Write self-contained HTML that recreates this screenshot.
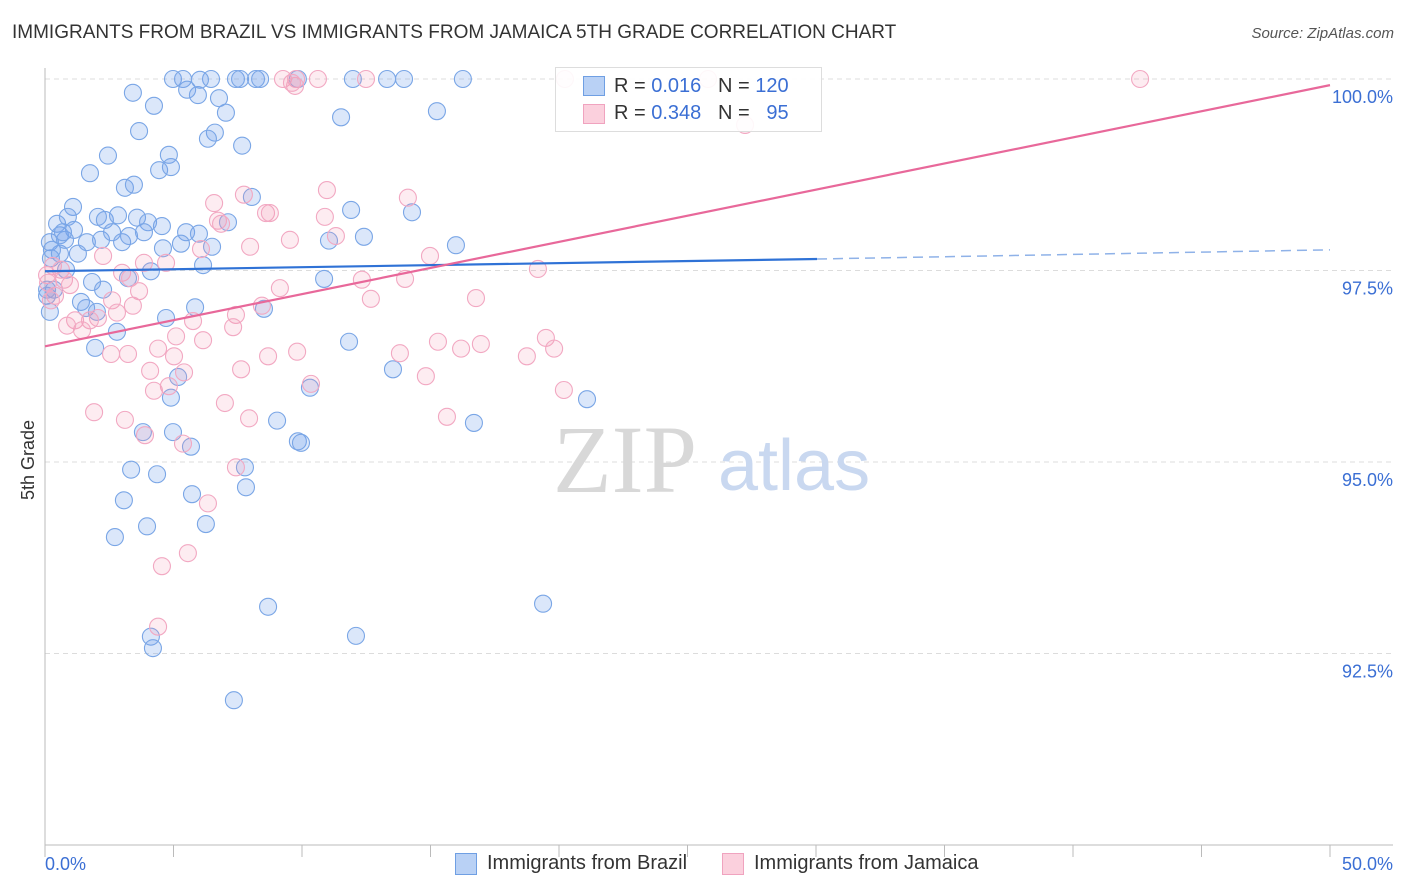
<!DOCTYPE html>
<html><head><meta charset="utf-8"><style>
body{margin:0;background:#fff;font-family:"Liberation Sans",sans-serif;}
#wrap{position:relative;width:1406px;height:892px;overflow:hidden;}
.t{position:absolute;white-space:nowrap;}
</style></head><body>
<div id="wrap">
<div class="t" style="left:12px;top:22px;font-size:19px;color:#333;">IMMIGRANTS FROM BRAZIL VS IMMIGRANTS FROM JAMAICA 5TH GRADE CORRELATION CHART</div>
<div class="t" style="right:12px;top:25px;font-size:15px;color:#555;font-style:italic;">Source: ZipAtlas.com</div>
<div class="t" style="left:18px;top:500px;font-size:18px;color:#333;transform:rotate(-90deg);transform-origin:left top;">5th Grade</div>
<svg id="svg" width="1406" height="892" style="position:absolute;left:0;top:0;"></svg>
</div>
<script>
const xTicksLabels=["0.0%","50.0%"];
const yTickValues=[100,97.5,95,92.5];
const yTickLabels=["100.0%","97.5%","95.0%","92.5%"];
const brazilX=[4.98,5.37,6.46,7.43,7.59,8.21,8.37,9.84,11.98,13.31,13.97,16.26,3.42,5.53,5.95,6.77,4.24,7.04,11.52,15.25,3.66,6.61,6.34,7.67,2.45,4.82,1.75,4.44,4.90,3.11,3.46,8.05,1.09,11.91,14.28,0.47,0.89,2.06,2.33,2.84,3.58,4.01,4.55,5.49,5.99,7.12,0.19,0.58,1.13,1.63,2.18,2.61,3.00,3.27,3.85,4.59,5.29,6.50,11.05,12.41,15.99,0.23,0.58,1.28,0.82,4.12,6.15,10.86,0.35,0.08,1.83,2.26,3.23,1.40,1.60,2.02,5.84,8.52,4.71,2.80,1.95,11.83,13.54,5.18,10.31,4.90,21.09,9.03,16.69,3.81,4.98,9.84,9.96,5.68,3.35,4.36,7.78,7.82,5.72,3.07,6.26,3.97,2.72,8.68,19.38,4.12,12.10,4.20,7.35,0.19,0.08,0.27,0.78,6.03,0.70];
const brazilY=[100,100,100,100,100,100,100,100,100,100,100,100,99.82,99.86,99.79,99.75,99.65,99.56,99.50,99.58,99.32,99.30,99.22,99.13,99.00,99.01,98.77,98.81,98.85,98.58,98.62,98.46,98.33,98.29,98.26,98.11,98.20,98.20,98.16,98.22,98.19,98.13,98.08,98.00,97.98,98.13,97.87,97.96,98.03,97.87,97.90,98.00,97.87,97.95,98.00,97.79,97.85,97.81,97.89,97.94,97.83,97.66,97.72,97.72,97.51,97.49,97.57,97.39,97.25,97.17,97.35,97.25,97.40,97.09,97.01,96.96,97.02,97.00,96.88,96.70,96.49,96.57,96.21,96.11,95.97,95.84,95.82,95.54,95.51,95.39,95.39,95.27,95.25,95.20,94.90,94.84,94.93,94.67,94.58,94.50,94.19,94.16,94.02,93.11,93.15,92.72,92.73,92.57,91.89,96.96,97.25,97.77,97.90,99.99,98.00];
const jamaicaX=[20.23,25.80,42.61,9.26,9.77,10.62,12.49,9.73,9.61,27.24,7.74,10.97,14.12,6.58,8.60,8.75,10.89,6.73,6.85,11.32,6.07,7.98,9.53,14.98,4.71,3.85,0.31,0.62,0.74,2.26,3.00,3.31,0.39,19.18,12.33,14.01,16.77,12.68,9.14,3.66,0.97,2.61,3.42,7.43,8.44,2.80,2.06,1.17,1.75,5.76,7.32,5.10,6.15,1.44,4.40,5.02,3.23,2.57,8.68,9.81,13.81,15.29,16.19,16.96,18.75,19.49,19.81,4.09,5.41,7.63,14.82,10.35,4.82,4.24,20.19,7.00,15.64,1.91,3.11,7.94,3.89,5.37,7.43,6.34,5.56,4.55,4.40,0.08,0.12,0.23,0.86];
const jamaicaY=[100,100,100,100,100,100,100,99.91,99.95,99.40,98.49,98.55,98.45,98.38,98.25,98.25,98.20,98.15,98.11,97.95,97.78,97.81,97.90,97.69,97.60,97.60,97.56,97.51,97.38,97.69,97.47,97.40,97.17,97.52,97.38,97.39,97.14,97.13,97.27,97.23,97.31,97.11,97.04,96.92,97.04,96.95,96.88,96.85,96.85,96.84,96.76,96.64,96.59,96.72,96.48,96.38,96.41,96.41,96.38,96.44,96.42,96.57,96.48,96.54,96.38,96.62,96.48,96.19,96.17,96.21,96.12,96.02,95.99,95.93,95.94,95.77,95.59,95.65,95.55,95.57,95.35,95.24,94.93,94.46,93.81,93.64,92.85,97.44,97.34,97.11,96.78];
const brazilTrendX=[0,30.04,50];
const brazilTrendY=[97.49,97.65,97.77];
const jamaicaTrendX=[0,50];
const jamaicaTrendY=[96.51,99.92];

const X=v=>45+v*25.7;
const Y=v=>79+(100-v)*76.6;
const svg=document.getElementById('svg');
const NS='http://www.w3.org/2000/svg';
function mk(tag,attrs,parent){const e=document.createElementNS(NS,tag);for(const k in attrs)e.setAttribute(k,attrs[k]);(parent||svg).appendChild(e);return e;}
yTickValues.forEach((v,i)=>{
  const g=mk('line',{x1:45,x2:1393,y1:Y(v),y2:Y(v),stroke:'#dcdcdc','stroke-dasharray':'5,4','stroke-width':1});
  
  
  const t=mk('text',{x:1393,y:Y(v)+24,'text-anchor':'end','font-size':18,fill:'#3b6fd4','font-family':'Liberation Sans, sans-serif'});
  t.textContent=yTickLabels[i];
  
  
});
const ax=mk('line',{x1:45,x2:1393,y1:845,y2:845,stroke:'#bbb'});


const ay=mk('line',{x1:45,x2:45,y1:68,y2:845,stroke:'#bbb'});


for(let i=0;i<=10;i++){
  const tk=mk('line',{x1:X(i*5),x2:X(i*5),y1:845,y2:857,stroke:'#bbb'});
  
  
}
const xl0=mk('text',{x:45,y:870,'font-size':18,fill:'#3b6fd4','font-family':'Liberation Sans, sans-serif'});xl0.textContent=xTicksLabels[0];


const xl1=mk('text',{x:1393,y:870,'text-anchor':'end','font-size':18,fill:'#3b6fd4','font-family':'Liberation Sans, sans-serif'});xl1.textContent=xTicksLabels[1];


const wm=mk('text',{x:553,y:492,'font-size':96,fill:'#d8d8d8','font-family':'Liberation Serif, serif'});wm.textContent='ZIP';


const wm2=mk('text',{x:718,y:490,'font-size':72,fill:'#c9d8f0','font-family':'Liberation Sans, sans-serif'});wm2.textContent='atlas';


brazilX.forEach((x,i)=>{
  const c=mk('circle',{cx:X(x),cy:Y(brazilY[i]),r:8.5,fill:'rgba(110,160,235,0.25)',stroke:'#7aa6e6','stroke-width':1.1});
  
  
});
jamaicaX.forEach((x,i)=>{
  const c=mk('circle',{cx:X(x),cy:Y(jamaicaY[i]),r:8.5,fill:'rgba(245,150,180,0.18)',stroke:'#f2a8c2','stroke-width':1.1});
  
  
});
const bt1=mk('line',{x1:X(brazilTrendX[0]),y1:Y(brazilTrendY[0]),x2:X(brazilTrendX[1]),y2:Y(brazilTrendY[1]),stroke:'#2f72d6','stroke-width':2.2});


const bt2=mk('line',{x1:X(brazilTrendX[1]),y1:Y(brazilTrendY[1]),x2:X(brazilTrendX[2]),y2:Y(brazilTrendY[2]),stroke:'#8fb2e8','stroke-width':1.5,'stroke-dasharray':'10,6'});


const jt=mk('line',{x1:X(jamaicaTrendX[0]),y1:Y(jamaicaTrendY[0]),x2:X(jamaicaTrendX[1]),y2:Y(jamaicaTrendY[1]),stroke:'#e8689a','stroke-width':2.2});


</script>
<div class="t" style="left:555px;top:67px;width:265px;height:63px;border:1px solid #ddd;background:rgba(255,255,255,0.9);font-size:20px;">
 <div class="t" style="left:27px;top:8px;width:20px;height:18px;background:#b9d1f5;border:1px solid #6f9fe3;"></div>
 <div class="t" style="left:58px;top:7px;color:#333;">R = <span style="color:#3b6fd4">0.016</span>&nbsp;&nbsp;&nbsp;N = <span style="color:#3b6fd4">120</span></div>
 <div class="t" style="left:27px;top:36px;width:20px;height:18px;background:#fbd0dd;border:1px solid #f0a3bf;"></div>
 <div class="t" style="left:58px;top:34px;color:#333;">R = <span style="color:#3b6fd4">0.348</span>&nbsp;&nbsp;&nbsp;N = &nbsp;&nbsp;<span style="color:#3b6fd4">95</span></div>
</div>
<div class="t" style="left:455px;top:853px;width:20px;height:20px;background:#b9d1f5;border:1px solid #6f9fe3;"></div>
<div class="t" style="left:487px;top:852px;font-size:20px;color:#333;">Immigrants from Brazil</div>
<div class="t" style="left:722px;top:853px;width:20px;height:20px;background:#fbd0dd;border:1px solid #f0a3bf;"></div>
<div class="t" style="left:754px;top:852px;font-size:20px;color:#333;">Immigrants from Jamaica</div>
</body></html>
